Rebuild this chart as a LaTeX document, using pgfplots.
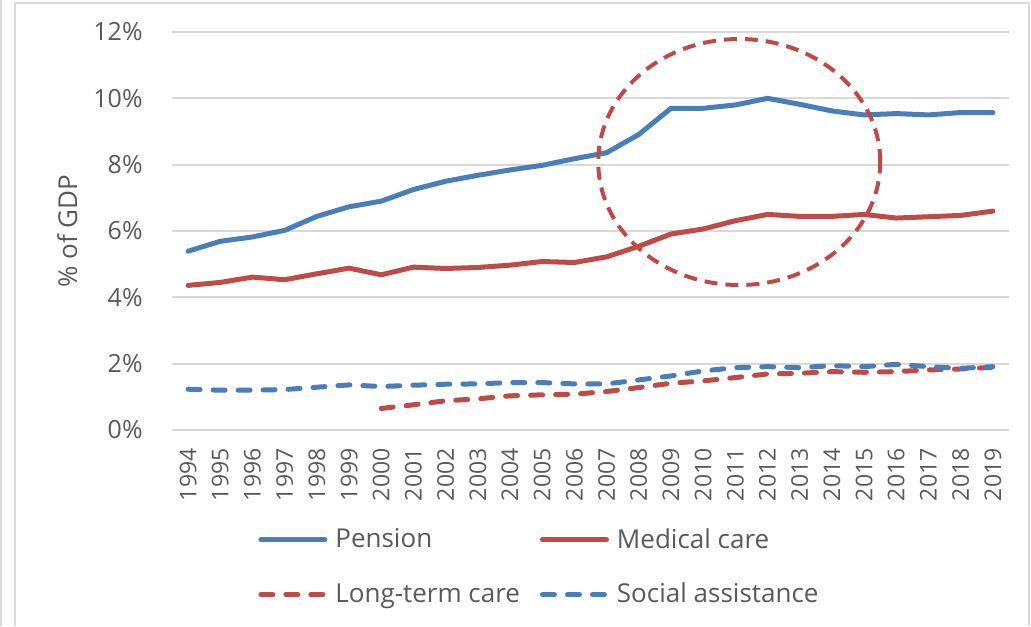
\documentclass[border=0pt]{standalone}
\usepackage{fontspec}
\setmainfont{Open Sans}
\usepackage{pgfplots}
\usepackage{pgfplotstable}
\pgfplotsset{compat=1.18}

\definecolor{penblue}{HTML}{4A7EBB}
\definecolor{medred}{HTML}{BE4B48}
\definecolor{txtgray}{HTML}{595959}
\definecolor{gridgray}{HTML}{D9D9D9}

% Social spending, % of GDP
\pgfplotstableread{
year pension medical
1994 5.39 4.36
1995 5.69 4.45
1996 5.82 4.61
1997 6.02 4.53
1998 6.44 4.71
1999 6.73 4.88
2000 6.90 4.68
2001 7.25 4.91
2002 7.50 4.87
2003 7.68 4.90
2004 7.84 4.97
2005 7.98 5.08
2006 8.18 5.05
2007 8.36 5.22
2008 8.91 5.54
2009 9.70 5.91
2010 9.70 6.06
2011 9.80 6.31
2012 10.00 6.50
2013 9.82 6.44
2014 9.62 6.44
2015 9.50 6.50
2016 9.54 6.39
2017 9.50 6.43
2018 9.57 6.47
2019 9.57 6.60
}\maintable

\pgfplotstableread{
year social
1994 1.23
1995 1.20
1996 1.20
1997 1.22
1998 1.29
1999 1.36
2000 1.31
2001 1.35
2002 1.38
2003 1.39
2004 1.43
2005 1.43
2006 1.39
2007 1.39
2008 1.51
2009 1.63
2010 1.78
2011 1.88
2012 1.91
2013 1.88
2014 1.94
2015 1.91
2016 1.98
2017 1.91
2018 1.86
2019 1.91
}\socialtable

\pgfplotstableread{
year ltc
2000 0.65
2001 0.76
2002 0.88
2003 0.94
2004 1.03
2005 1.06
2006 1.08
2007 1.16
2008 1.28
2009 1.41
2010 1.48
2011 1.58
2012 1.69
2013 1.71
2014 1.76
2015 1.74
2016 1.76
2017 1.81
2018 1.84
2019 1.89
}\ltctable

\begin{document}
\begin{tikzpicture}
\begin{axis}[
  scale only axis,
  width=418.5pt, height=199pt,
  xmin=1993.5, xmax=2019.5,
  ymin=0, ymax=12,
  clip=false,
  axis line style={draw=none},
  major tick length=0pt,
  ymajorgrids,
  grid style={gridgray, line width=1pt},
  ytick={0,2,4,6,8,10,12},
  yticklabels={0\%,2\%,4\%,6\%,8\%,10\%,12\%},
  yticklabel style={font=\fontsize{12.5}{14}\selectfont, text=txtgray, inner sep=0pt, anchor=east},
  yticklabel shift=14.5pt,
  xtick={1994,...,2019},
  xticklabels={1994,1995,1996,1997,1998,1999,2000,2001,2002,2003,2004,2005,2006,2007,2008,2009,2010,2011,2012,2013,2014,2015,2016,2017,2018,2019},
  xticklabel style={font=\fontsize{11.5}{13}\selectfont, text=txtgray, inner sep=0pt, rotate=90, anchor=east},
  xticklabel shift=9pt,
  ylabel={\% of GDP},
  ylabel style={font=\fontsize{13}{15}\selectfont, text=txtgray, at={(axis description cs:-0.125,0.5)}, anchor=center},
  legend columns=2,
  legend cell align=left,
  legend image code/.code={\draw[#1] (1.25pt,0pt) -- (33.25pt,0pt);},
  legend style={draw=none, fill=none, inner sep=0pt,
    font=\fontsize{13}{15}\selectfont, text=txtgray,
    at={(axis description cs:0.1027,-0.2462)}, anchor=north west,
    row sep=16pt,
    nodes={inner sep=0pt},
    /tikz/every odd column/.append style={column sep=4pt},
    /tikz/every even column/.append style={column sep=10pt}},
]
\addplot[penblue, line width=2.5pt, line join=round, line cap=round] table[x=year, y=pension] {\maintable};
\addlegendentry{Pension}
\addplot[medred, line width=2.5pt, line join=round, line cap=round] table[x=year, y=medical] {\maintable};
\addlegendentry{Medical care}
\addplot[medred, line width=2.5pt, line join=round, line cap=round, dash pattern=on 6pt off 6.5pt] table[x=year, y=ltc] {\ltctable};
\addlegendentry{Long-term care}
\addplot[penblue, line width=2.5pt, line join=round, line cap=round, dash pattern=on 6pt off 6.5pt] table[x=year, y=social] {\socialtable};
\addlegendentry{Social assistance}

% highlight around the 2008--2015 period
\draw[medred, line width=2pt, dash pattern=on 6.5pt off 4pt]
  (axis cs:2011.12,8.08) ellipse [x radius=70.5pt, y radius=61.5pt];
\end{axis}

% outer frame
\draw[gridgray, line width=1pt] (-78.5pt,-98pt) -- (-78.5pt,213.5pt) -- (428.5pt,213.5pt) -- (428.5pt,-98pt);
\draw[gridgray, line width=1pt] (-85.5pt,-98pt) -- (-85.5pt,215pt);

\pgfresetboundingbox
\path[use as bounding box] (-86pt,-98pt) rectangle (429.5pt,215pt);
\end{tikzpicture}
\end{document}
